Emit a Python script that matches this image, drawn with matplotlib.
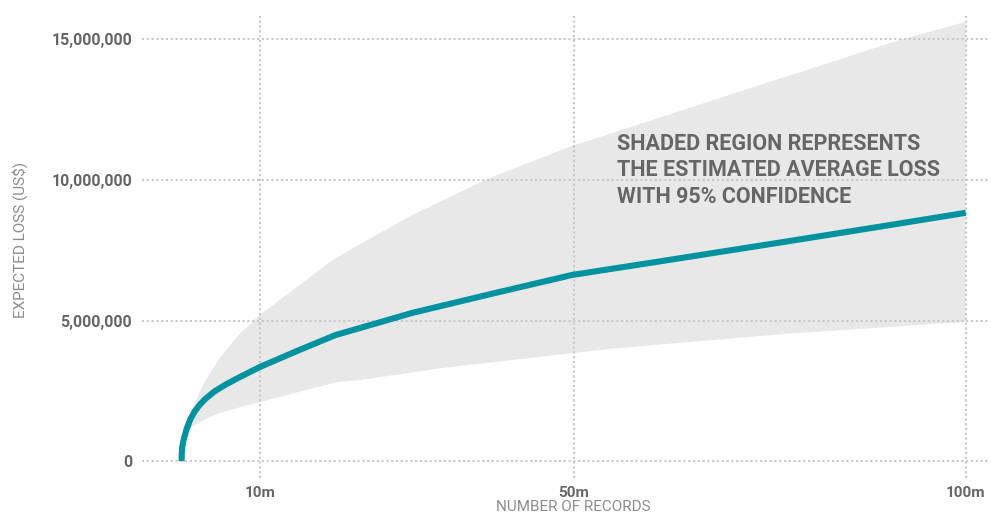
import matplotlib.pyplot as plt
import numpy as np
from matplotlib.ticker import FuncFormatter

# expected loss curve (x in millions of records, y in millions of US$)
line_x = [0, 0.02, 0.08, 0.25, 0.65, 1.1, 1.65, 2.3, 3.05, 4.2, 5.6, 7.5, 10,
          15, 19.6, 29.4, 40, 49.8, 60, 76.7, 90, 100]
line_y = [0, 0.3, 0.5, 0.75, 1.15, 1.48, 1.76, 2.0, 2.22, 2.48, 2.72, 3.0, 3.35,
          3.95, 4.48, 5.27, 5.98, 6.62, 7.06, 7.79, 8.38, 8.83]

# 95% confidence band
upper_x = [0.5, 0.9, 1.5, 2.8, 4.7, 7.3, 10, 19.6, 29.4, 39.3, 49.8, 53.4, 72.5, 91.6, 100]
upper_y = [1.0, 1.4, 1.95, 2.75, 3.6, 4.5, 5.2, 7.22, 8.75, 10.07, 11.21, 11.53, 13.26, 14.98, 15.62]
lower_x = [0.5, 1.5, 3.0, 5.0, 7.5, 10, 19.8, 22.7, 33.2, 49.8, 54.6, 76.7, 100]
lower_y = [1.0, 1.25, 1.5, 1.72, 1.92, 2.1, 2.81, 2.88, 3.31, 3.84, 3.99, 4.52, 4.95]

x_ticks = [10, 50, 100]
x_tick_labels = ['10m', '50m', '100m']
y_ticks = [0, 5e6, 10e6, 15e6]

note = 'SHADED REGION REPRESENTS\nTHE ESTIMATED AVERAGE LOSS\nWITH 95% CONFIDENCE'

plt.rcParams['font.family'] = ['Roboto', 'DejaVu Sans']

fig = plt.figure(figsize=(9.91, 5.23), dpi=100)
ax = fig.add_axes([142 / 991, 45 / 523, 848 / 991, 464 / 523])

M = 1e6
band_x = np.concatenate([upper_x, lower_x[::-1]])
band_y = np.concatenate([upper_y, lower_y[::-1]]) * M
ax.fill(band_x, band_y, color='#e8e8e8', linewidth=0, zorder=1)
ax.plot(line_x, np.array(line_y) * M, color='#00939f', linewidth=4.4,
        solid_capstyle='butt', solid_joinstyle='round', zorder=3)

ax.text(55.5, 11.68 * M, note, fontsize=15.5, fontweight='bold', color='#666666',
        va='top', ha='left', linespacing=1.28, zorder=4)

ax.set_xlim(-5.05, 103.1)
ax.set_ylim(-0.6 * M, 15.9 * M)
ax.set_xticks(x_ticks)
ax.set_xticklabels(x_tick_labels)
ax.set_yticks(y_ticks)
ax.yaxis.set_major_formatter(FuncFormatter(lambda v, p: f'{int(v):,}'))

for s in ax.spines.values():
    s.set_visible(False)
ax.tick_params(axis='both', length=0, colors='#666666')
ax.tick_params(axis='y', pad=7.2, labelsize=11.5)
ax.tick_params(axis='x', pad=6.0, labelsize=11)
for lab in ax.get_xticklabels() + ax.get_yticklabels():
    lab.set_fontweight('bold')

ax.set_axisbelow(False)
ax.grid(True, color='#c8c8c8', linestyle=(0, (1, 1.3)), linewidth=1.5)

fig.text(20 / 991, 283 / 523, 'EXPECTED LOSS (US$)', rotation=90, ha='center', va='center',
         fontsize=11, color='#8c8c8c')
fig.text(573 / 991, 16 / 523, 'NUMBER OF RECORDS', ha='center', va='center',
         fontsize=11, color='#8c8c8c')

fig.savefig('out.png', dpi=100)
